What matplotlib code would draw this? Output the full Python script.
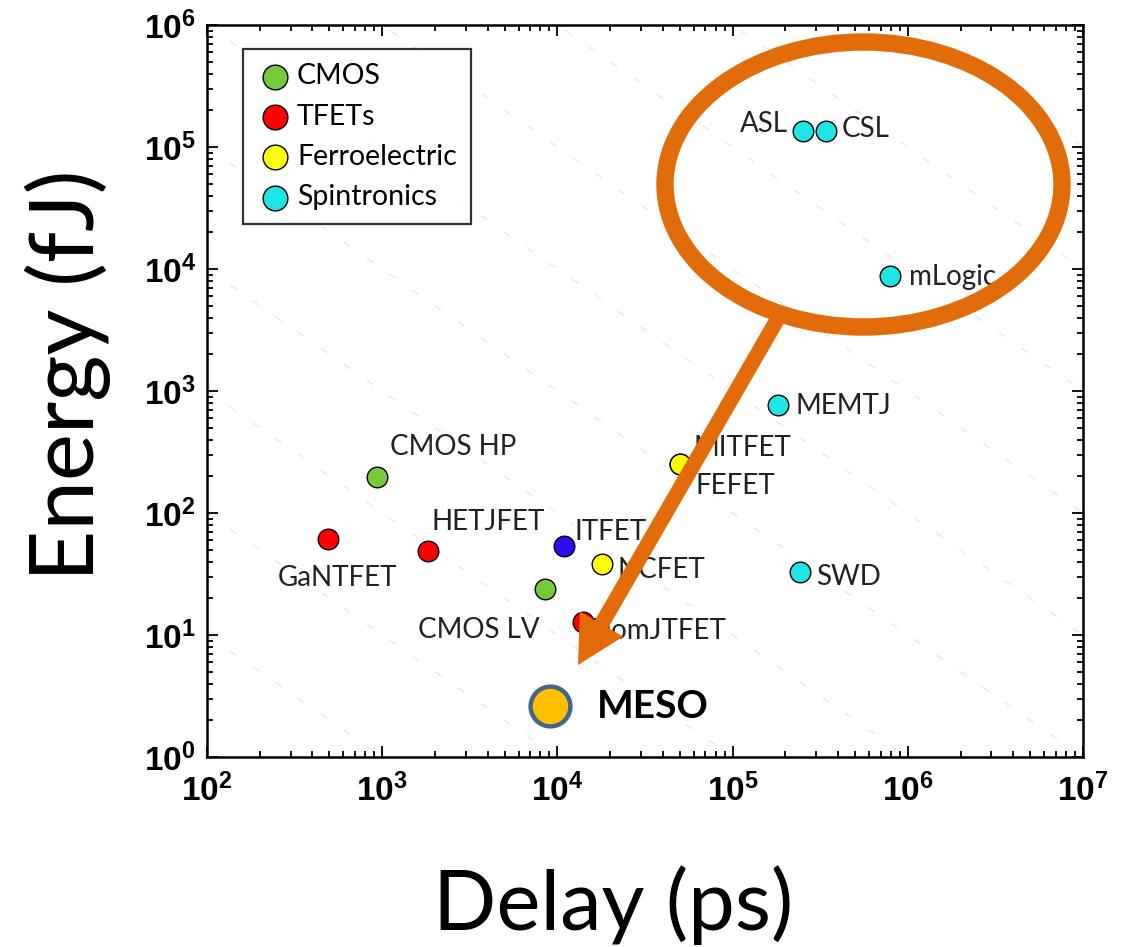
import matplotlib
matplotlib.use("Agg")
import numpy as np
import matplotlib.pyplot as plt
from matplotlib import font_manager
from matplotlib.patches import Ellipse, FancyArrowPatch
from matplotlib.ticker import FixedLocator, FixedFormatter, LogLocator, NullFormatter

# device benchmark data (delay in ps, energy in fJ)
DEVICES = ["CMOS HP", "CMOS LV", "GaNTFET", "HETJFET", "HomJTFET", "ITFET",
           "NCFET", "MITFET", "FEFET", "MEMTJ", "SWD", "mLogic", "ASL", "CSL"]
DELAY_PS = [933, 8490, 491, 1824, 14000, 10900,
            18000, 50100, 50100, 181000, 243000, 791000, 252000, 341000]
ENERGY_FJ = [197, 23.8, 61, 49, 12.8, 54,
             38, 252, 252, 767, 32.8, 8770, 135000, 135000]
GROUPS = ["CMOS", "CMOS", "TFETs", "TFETs", "TFETs", "ITFET",
          "Ferroelectric", "Ferroelectric", "Ferroelectric", "Spintronics",
          "Spintronics", "Spintronics", "Spintronics", "Spintronics"]
LEGEND_GROUPS = ["CMOS", "TFETs", "Ferroelectric", "Spintronics"]

MESO_DELAY = 9080
MESO_ENERGY = 2.6

# constant energy-delay product guide lines (fJ*ps)
EDP_LEVELS = [1e3, 1e4, 1e5, 1e6, 1e7, 1e8, 1e9, 1e10, 1e11, 1e12]

X_DECADES = [2, 3, 4, 5, 6, 7]
Y_DECADES = [0, 1, 2, 3, 4, 5, 6]

COLORS = {"CMOS": "#77c83a", "TFETs": "#ff0000", "Ferroelectric": "#ffff00",
          "Spintronics": "#1ee6e6", "ITFET": "#2a10f0"}

# label offsets in pixels (dx, dy, ha)
LABEL_POS = {
    "CMOS HP": (13, 30, "left"), "CMOS LV": (-5, -41, "right"),
    "GaNTFET": (9, -39, "center"), "HETJFET": (4, 29, "left"),
    "HomJTFET": (7, -9, "left"), "ITFET": (11, 14, "left"),
    "NCFET": (15, -6, "left"), "MITFET": (13, 16, "left"),
    "FEFET": (15, -22, "left"), "MEMTJ": (18, -1, "left"),
    "SWD": (16, -5, "left"), "mLogic": (19, -1, "left"),
    "ASL": (-15, 7, "right"), "CSL": (16, 2, "left"),
}

names = {f.name for f in font_manager.fontManager.ttflist}
TICK_FONT = "Liberation Sans Narrow" if "Liberation Sans Narrow" in names else "Liberation Sans"
TEXT_FONT = "Lato" if "Lato" in names else "DejaVu Sans"

plt.rcParams["font.family"] = [TEXT_FONT, "DejaVu Sans"]
plt.rcParams["mathtext.fontset"] = "custom"
plt.rcParams["mathtext.bf"] = TICK_FONT + ":bold"
plt.rcParams["mathtext.rm"] = TICK_FONT + ":bold"

W, H = 1135, 947
fig = plt.figure(figsize=(W / 100, H / 100), dpi=100)
ax = fig.add_axes([207 / W, 1 - 757 / H, 876 / W, 732 / H])
ax.set_xscale("log")
ax.set_yscale("log")
ax.set_xlim(1e2, 1e7)
ax.set_ylim(1e0, 1e6)

# faint EDP guide lines
xs = np.logspace(2, 7, 200)
for edp in EDP_LEVELS:
    ax.plot(xs, edp / xs, color="#e4e4e4", lw=0.8, ls=(0, (7, 18)), zorder=1)

for g in LEGEND_GROUPS + ["ITFET"]:
    gx = [d for d, gg in zip(DELAY_PS, GROUPS) if gg == g]
    gy = [e for e, gg in zip(ENERGY_FJ, GROUPS) if gg == g]
    ax.scatter(gx, gy, s=220, c=COLORS[g], edgecolors="black", linewidths=1.0,
               zorder=5, label=g if g in LEGEND_GROUPS else None)

for name, d, e in zip(DEVICES, DELAY_PS, ENERGY_FJ):
    dx, dy, ha = LABEL_POS[name]
    ax.annotate(name, (d, e), xytext=(dx, dy), textcoords="offset pixels",
                ha=ha, va="center", fontsize=20, color="#222222", zorder=3,
                bbox=dict(boxstyle="square,pad=0.05", fc="white", ec="none"))

ax.scatter([MESO_DELAY], [MESO_ENERGY], s=820, c="#ffc000", edgecolors="#44648c",
           linewidths=3.2, zorder=6)
ax.annotate("MESO", (MESO_DELAY, MESO_ENERGY), xytext=(47, 0), textcoords="offset pixels",
            ha="left", va="center", fontsize=28, fontweight="bold", color="black")

ax.xaxis.set_major_locator(FixedLocator([10.0 ** k for k in X_DECADES]))
ax.xaxis.set_major_formatter(FixedFormatter([r"$\mathbf{10^{%d}}$" % k for k in X_DECADES]))
ax.yaxis.set_major_locator(FixedLocator([10.0 ** k for k in Y_DECADES]))
ax.yaxis.set_major_formatter(FixedFormatter([r"$\mathbf{10^{%d}}$" % k for k in Y_DECADES]))
for axis in (ax.xaxis, ax.yaxis):
    axis.set_minor_locator(LogLocator(base=10, subs=np.arange(2, 10), numticks=20))
    axis.set_minor_formatter(NullFormatter())
ax.tick_params(which="both", direction="in", top=True, right=True, width=1.3)
ax.tick_params(which="major", length=8, labelsize=24)
ax.tick_params(axis="x", which="major", pad=11)
ax.tick_params(axis="y", which="major", pad=8)
ax.tick_params(which="minor", length=4.5)
for sp in ax.spines.values():
    sp.set_linewidth(1.8)

leg = ax.legend(loc="upper left", bbox_to_anchor=(0.041, 0.967), borderaxespad=0,
                fontsize=20.5, frameon=True, fancybox=False, edgecolor="black",
                labelspacing=0.5, handletextpad=0.15, handlelength=1.25,
                borderpad=0.5, markerscale=1.2)
leg.get_frame().set_linewidth(1.6)
leg.set_zorder(7)

# orange highlight ellipse and arrow
fig.patches.append(Ellipse((863.5 / W, 1 - 184.5 / H), 397 / W, 285 / H,
                           transform=fig.transFigure, fill=False,
                           ec="#e36c0a", lw=12.5, zorder=10))
fig.patches.append(FancyArrowPatch((777 / W, 1 - 320 / H), (578 / W, 1 - 665 / H),
                                   transform=fig.transFigure,
                                   arrowstyle="simple,head_length=34,head_width=36,tail_width=11",
                                   mutation_scale=1, shrinkA=0, shrinkB=0,
                                   fc="#e36c0a", ec="none", zorder=10))

fig.text(613 / W, 1 - 930 / H, "Delay (ps)", ha="center", va="baseline", fontsize=60)
fig.text(68 / W, 1 - 375 / H, "Energy (fJ)", ha="center", va="center",
         rotation=90, fontsize=64)

fig.savefig("out.png", dpi=100, facecolor="white")
